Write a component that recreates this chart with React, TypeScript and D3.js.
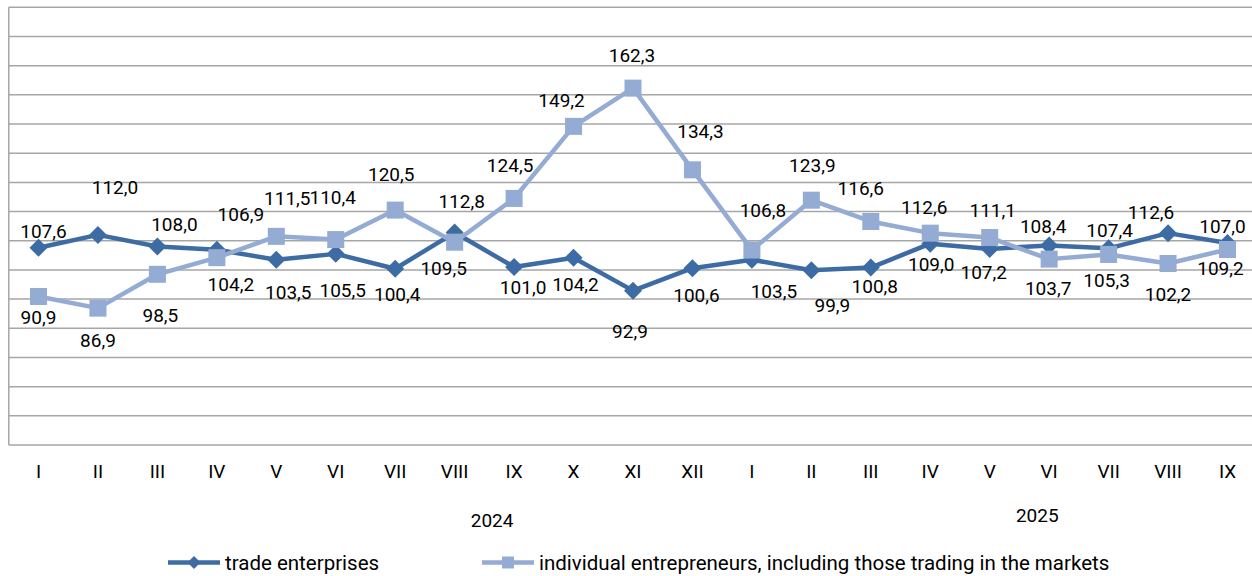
import React, { useEffect, useRef } from 'react'
import * as d3 from 'd3'

const MONTHS = ['I', 'II', 'III', 'IV', 'V', 'VI', 'VII', 'VIII', 'IX', 'X', 'XI', 'XII',
  'I', 'II', 'III', 'IV', 'V', 'VI', 'VII', 'VIII', 'IX']
const YEARS = ['2024', '2025']

const TRADE = [107.6, 112.0, 108.0, 106.9, 103.5, 105.5, 100.4, 112.8, 101.0, 104.2, 92.9, 100.6,
  103.5, 99.9, 100.8, 109.0, 107.2, 108.4, 107.4, 112.6, 109.2]
const INDIVIDUAL = [90.9, 86.9, 98.5, 104.2, 111.5, 110.4, 120.5, 109.5, 124.5, 149.2, 162.3, 134.3,
  106.8, 123.9, 116.6, 112.6, 111.1, 103.7, 105.3, 102.2, 107.0]

const SERIES_NAMES = ['trade enterprises', 'individual entrepreneurs, including those trading in the markets']

// label nudges (px from the marker) — the original has hand-placed labels
const TRADE_LABEL_OFFSETS = [
  [5, -16], [17, -48], [17, -22], [24, -35], [12, 33], [7, 36], [2, 26], [7, -31], [9, 20], [2, 27], [-3, 41],
  [4, 27], [22, 32], [21, 35], [4, 19], [1, 21], [-6, 23], [-6, -19], [1, -18], [-17, -21], [-7, 25],
]
const INDIVIDUAL_LABEL_OFFSETS = [
  [0, 21], [0, 32], [3, 41], [14, 27], [11, -38], [-3, -42], [-4, -36], [-11, 26], [-4, -33], [-12, -26], [-1, -33],
  [8, -38], [11, -40], [1, -35], [-10, -33], [-6, -26], [3, -27], [-1, 29], [-2, 26], [0, 31], [-5, -23],
]
const YEAR_AT = [7.63, 16.8] // index position of year captions
const YEAR_Y = [520, 515]

const DARK = '#3d6ca5'
const LIGHT = '#94abd3'
const GRID = '#a6a6a6'
const FONT = 'Roboto, "Noto Sans", sans-serif'

const W = 1252
const H = 576

export default function App() {
  const ref = useRef<SVGSVGElement>(null)

  useEffect(() => {
    const svg = d3.select(ref.current)
    svg.selectAll('*').remove()

    const x = d3.scaleLinear().domain([0, 20]).range([38.5, 1227.5])
    const y = d3.scaleLinear().domain([40, 190]).range([445, 7.3])
    const plotLeft = x(-0.5)

    const g = svg.append('g')

    // horizontal grid
    g.selectAll('.grid')
      .data(d3.range(50, 191, 10))
      .join('line')
      .attr('x1', plotLeft).attr('x2', W)
      .attr('y1', d => y(d)).attr('y2', d => y(d))
      .attr('stroke', GRID).attr('stroke-width', 1.5)

    // axis lines
    g.append('line').attr('x1', plotLeft).attr('x2', plotLeft).attr('y1', y(190)).attr('y2', y(40))
      .attr('stroke', GRID).attr('stroke-width', 1.5)
    g.append('line').attr('x1', plotLeft).attr('x2', W).attr('y1', y(40)).attr('y2', y(40))
      .attr('stroke', GRID).attr('stroke-width', 1.5)

    // month ticks
    g.selectAll('.month')
      .data(MONTHS)
      .join('text')
      .attr('x', (_, i) => x(i)).attr('y', 471).attr('dy', '0.35em')
      .attr('text-anchor', 'middle').attr('font-size', 19).attr('font-family', FONT).attr('fill', '#000')
      .text(d => d)

    YEARS.forEach((yr, i) => {
      g.append('text')
        .attr('x', x(YEAR_AT[i])).attr('y', YEAR_Y[i]).attr('dy', '0.35em')
        .attr('text-anchor', 'middle').attr('font-size', 19).attr('font-family', FONT)
        .text(yr)
    })

    const line = d3.line<number>().x((_, i) => x(i)).y(d => y(d))
    const diamond = (r: number) => `M0,${-r}L${r},0L0,${r}L${-r},0Z`

    // trade enterprises
    g.append('path').datum(TRADE).attr('d', line).attr('fill', 'none')
      .attr('stroke', DARK).attr('stroke-width', 4.5).attr('stroke-linejoin', 'round')
    g.selectAll('.dmk').data(TRADE).join('path')
      .attr('transform', (d, i) => `translate(${x(i)},${y(d)})`)
      .attr('d', diamond(9)).attr('fill', DARK)

    // individual entrepreneurs
    g.append('path').datum(INDIVIDUAL).attr('d', line).attr('fill', 'none')
      .attr('stroke', LIGHT).attr('stroke-width', 4.5).attr('stroke-linejoin', 'round')
    g.selectAll('.smk').data(INDIVIDUAL).join('rect')
      .attr('x', (_, i) => x(i) - 8.5).attr('y', d => y(d) - 8.5)
      .attr('width', 17).attr('height', 17).attr('fill', LIGHT)

    const fmt = (v: number) => v.toFixed(1).replace('.', ',')
    const labels = (data: number[], offs: number[][]) => {
      g.append('g').selectAll('text').data(data).join('text')
        .attr('x', (_, i) => x(i) + offs[i][0])
        .attr('y', (d, i) => y(d) + offs[i][1])
        .attr('dy', '0.35em')
        .attr('text-anchor', 'middle').attr('font-size', 19).attr('font-family', FONT).attr('fill', '#000')
        .text(d => fmt(d))
    }
    labels(TRADE, TRADE_LABEL_OFFSETS)
    labels(INDIVIDUAL, INDIVIDUAL_LABEL_OFFSETS)

    // legend
    const ly = 562.5
    const lg = svg.append('g')
    const items = [
      { name: SERIES_NAMES[0], color: DARK, x0: 168, kind: 'diamond' },
      { name: SERIES_NAMES[1], color: LIGHT, x0: 482, kind: 'square' },
    ]
    items.forEach(it => {
      lg.append('line').attr('x1', it.x0).attr('x2', it.x0 + 52).attr('y1', ly).attr('y2', ly)
        .attr('stroke', it.color).attr('stroke-width', 4.5)
      if (it.kind === 'diamond') {
        lg.append('path').attr('transform', `translate(${it.x0 + 26},${ly})`).attr('d', diamond(6.5)).attr('fill', it.color)
      } else {
        lg.append('rect').attr('x', it.x0 + 20).attr('y', ly - 6).attr('width', 12).attr('height', 12).attr('fill', it.color)
      }
      lg.append('text').attr('x', it.x0 + 57).attr('y', ly).attr('dy', '0.35em')
        .attr('font-size', 20.5).attr('font-family', FONT).attr('fill', '#000')
        .text(it.name)
    })
  }, [])

  return (
    <svg ref={ref} width={W} height={H}
      style={{ position: 'absolute', left: 0, top: 0, display: 'block', background: '#fff' }} />
  )
}
